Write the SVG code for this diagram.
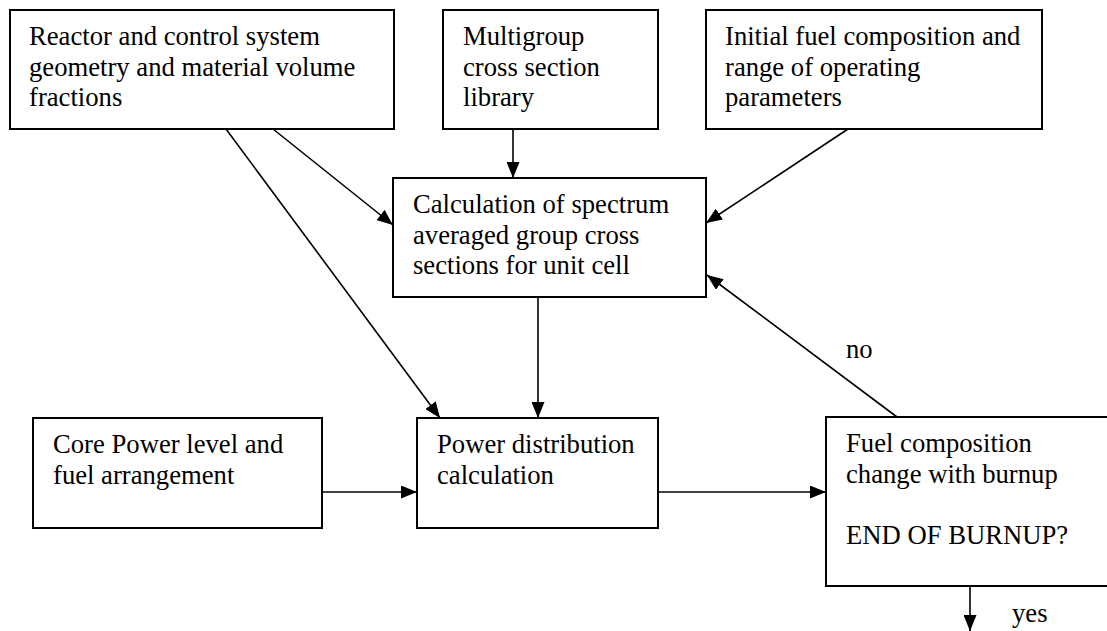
<svg xmlns="http://www.w3.org/2000/svg" width="1107" height="631" viewBox="0 0 1107 631">
<style>
.box{fill:#fff;stroke:#000;stroke-width:2}
.lbl{font-family:"Liberation Serif","Times New Roman",serif;font-size:26.67px;fill:#000}
.con{stroke:#000;stroke-width:1.6;fill:none;marker-end:url(#ah)}
</style>
<defs>
<marker id="ah" markerUnits="userSpaceOnUse" markerWidth="16" markerHeight="13" refX="16" refY="6.5" orient="auto">
<path d="M0,0 L16,6.5 L0,13 Z" fill="#000"/>
</marker>
</defs>
<rect width="1107" height="631" fill="#fff"/>
<g id="connectors">
<line class="con" x1="226" y1="129" x2="440" y2="418"/>
<line class="con" x1="273" y1="129" x2="393" y2="225"/>
<line class="con" x1="513" y1="129" x2="513" y2="178"/>
<line class="con" x1="848" y1="129" x2="706" y2="223"/>
<line class="con" x1="538" y1="297" x2="538" y2="418"/>
<line class="con" x1="322" y1="492" x2="417" y2="492"/>
<line class="con" x1="658" y1="492" x2="826" y2="492"/>
<line class="con" x1="897" y1="417" x2="707" y2="275"/>
<line class="con" x1="970" y1="586" x2="970" y2="631"/>
<text class="lbl" x="846" y="358">no</text>
<text class="lbl" x="1012" y="622">yes</text>
</g>
<g id="reactor">
<rect class="box" x="10" y="10" width="384" height="119"/>
<text class="lbl" x="29" y="45"><tspan x="29">Reactor and control system</tspan><tspan x="29" dy="30.7">geometry and material volume</tspan><tspan x="29" dy="30.7">fractions</tspan></text>
</g>
<g id="library">
<rect class="box" x="443" y="10" width="215" height="119"/>
<text class="lbl" x="463" y="45"><tspan x="463">Multigroup</tspan><tspan x="463" dy="30.7">cross section</tspan><tspan x="463" dy="30.7">library</tspan></text>
</g>
<g id="initial">
<rect class="box" x="706" y="10" width="336" height="119"/>
<text class="lbl" x="725" y="45"><tspan x="725">Initial fuel composition and</tspan><tspan x="725" dy="30.7">range of operating</tspan><tspan x="725" dy="30.7">parameters</tspan></text>
</g>
<g id="calc">
<rect class="box" x="393" y="178" width="313" height="119"/>
<text class="lbl" x="413" y="213"><tspan x="413">Calculation of spectrum</tspan><tspan x="413" dy="30.7">averaged group cross</tspan><tspan x="413" dy="30.7">sections for unit cell</tspan></text>
</g>
<g id="core">
<rect class="box" x="33" y="418" width="289" height="110"/>
<text class="lbl" x="53" y="453"><tspan x="53">Core Power level and</tspan><tspan x="53" dy="30.7">fuel arrangement</tspan></text>
</g>
<g id="power">
<rect class="box" x="417" y="418" width="241" height="110"/>
<text class="lbl" x="437" y="453"><tspan x="437">Power distribution</tspan><tspan x="437" dy="30.7">calculation</tspan></text>
</g>
<g id="fuel">
<rect class="box" x="826" y="417" width="300" height="169"/>
<text class="lbl" x="846" y="452"><tspan x="846">Fuel composition</tspan><tspan x="846" dy="30.7">change with burnup</tspan><tspan x="846" dy="61.4">END OF BURNUP?</tspan></text>
</g>
</svg>
